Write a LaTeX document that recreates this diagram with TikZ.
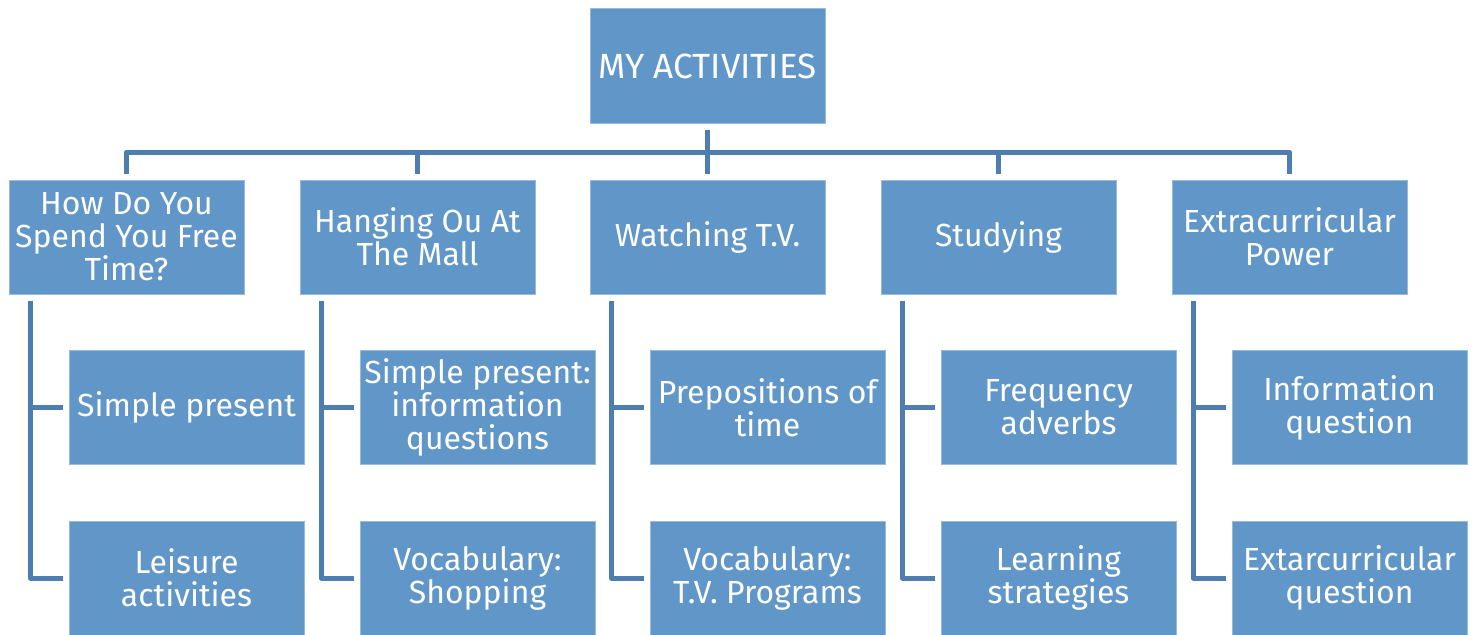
\documentclass[tikz,border=0pt]{standalone}
\usepackage{fontspec}
\setmainfont{Fira Sans}
\usetikzlibrary{positioning}
\definecolor{boxblue}{RGB}{96,150,200}
\definecolor{lineblue}{RGB}{78,125,176}

\begin{document}
\begin{tikzpicture}[x=1pt,y=-1pt,
        block/.style  = {rectangle, draw=boxblue!65!white, line width=1pt, fill=boxblue, text=white, minimum width=235pt, minimum height=114pt, inner sep=0pt, align=center, font=\fontsize{32}{33}\selectfont},
]
\tikzstyle{connect}=[line width=5pt, draw=lineblue, line join=round]

\useasboundingbox (0,0) rectangle (1482,634);
\clip (0,0) rectangle (1482,634);

	\pgfmathsetmacro{\posv}{237};

	\node[block, font=\fontsize{35}{40}\selectfont] (top) at (707.5,66) {MY ACTIVITIES};

	\node[block] (h0) at (126.5,\posv) {How Do You\\Spend You Free\\Time?};
	\node[block] (h1) at (417.5,\posv) {Hanging Ou At\\The Mall};
	\node[block] (h2) at (707.5,\posv) {Watching T.V.};
	\node[block] (h3) at (998.5,\posv) {Studying};
	\node[block] (h4) at (1289.5,\posv) {Extracurricular\\Power};

	\pgfmathsetmacro{\posv}{407.5};

	\node[block] (s0) at (186.5,\posv) {Simple present};
	\node[block] (s1) at (477.5,\posv) {Simple present:\\information\\questions};
	\node[block] (s2) at (767.5,\posv) {Prepositions of\\time};
	\node[block] (s3) at (1058.5,\posv) {Frequency\\adverbs};
	\node[block] (s4) at (1349.5,\posv) {Information\\question};

	\pgfmathsetmacro{\posv}{578};

	\node[block] (t0) at (186.5,\posv) {Leisure\\activities};
	\node[block] (t1) at (477.5,\posv) {Vocabulary:\\Shopping};
	\node[block] (t2) at (767.5,\posv) {Vocabulary:\\T.V. Programs};
	\node[block] (t3) at (1058.5,\posv) {Learning\\strategies};
	\node[block] (t4) at (1349.5,\posv) {Extarcurricular\\question};

	% tree bus under the top box
	\coordinate (bus) at (707.5,152);
	\draw[connect] ([yshift=-6pt]top.south) -- ([yshift=6pt]h2.north);
	\draw[connect] ([yshift=6pt]h0.north) -- (h0.north |- bus) -- (h4.north |- bus) -- ([yshift=6pt]h4.north);
	\draw[connect] (h1.north |- bus) -- ([yshift=6pt]h1.north);
	\draw[connect] (h3.north |- bus) -- ([yshift=6pt]h3.north);

	% side lines down to the children
	\coordinate (v0) at ([xshift=22pt,yshift=-6pt]h0.south west);
	\coordinate (v1) at ([xshift=22pt,yshift=-6pt]h1.south west);
	\coordinate (v2) at ([xshift=22pt,yshift=-6pt]h2.south west);
	\coordinate (v3) at ([xshift=22pt,yshift=-6pt]h3.south west);
	\coordinate (v4) at ([xshift=22pt,yshift=-6pt]h4.south west);

	\draw[connect] (v0) |- ([xshift=-6pt]t0.west);
	\draw[connect] (v1) |- ([xshift=-6pt]t1.west);
	\draw[connect] (v2) |- ([xshift=-6pt]t2.west);
	\draw[connect] (v3) |- ([xshift=-6pt]t3.west);
	\draw[connect] (v4) |- ([xshift=-6pt]t4.west);

	\draw[connect] (v0 |- s0.west) -- ([xshift=-6pt]s0.west);
	\draw[connect] (v1 |- s1.west) -- ([xshift=-6pt]s1.west);
	\draw[connect] (v2 |- s2.west) -- ([xshift=-6pt]s2.west);
	\draw[connect] (v3 |- s3.west) -- ([xshift=-6pt]s3.west);
	\draw[connect] (v4 |- s4.west) -- ([xshift=-6pt]s4.west);

\end{tikzpicture}
\end{document}
